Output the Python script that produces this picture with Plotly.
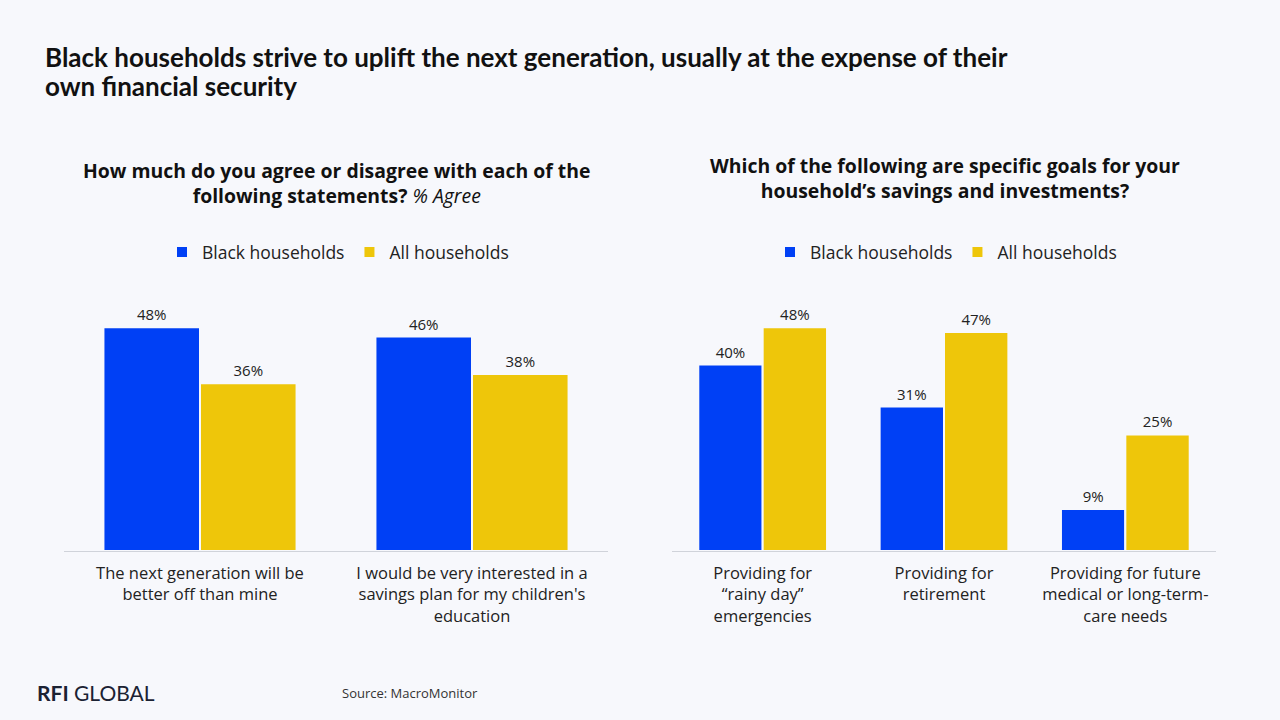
import plotly.graph_objects as go

# ---- data ----
left_categories = ["The next generation will be<br>better off than mine",
                   "I would be very interested in a<br>savings plan for my children's<br>education"]
left_black = [48, 46]
left_all = [36, 38]

right_categories = ["Providing for<br>“rainy day”<br>emergencies",
                    "Providing for<br>retirement",
                    "Providing for future<br>medical or long-term-<br>care needs"]
right_black = [40, 31, 9]
right_all = [48, 47, 25]

series_names = ["Black households", "All households"]

title_lines = ["Black households strive to uplift the next generation, usually at the expense of their",
               "own financial security"]

BG = "#F7F8FC"
BLUE = "#0040F5"
YELLOW = "#EEC60A"
TXT = "#1A1A1A"
FONT = "Open Sans"
TFONT = "Lato"

fig = go.Figure()

def pct(vals):
    return [f"{v}%" for v in vals]

fig.add_trace(go.Bar(x=left_categories, y=left_black, name=series_names[0],
                     marker=dict(color=BLUE, line=dict(color=BG, width=2)),
                     text=pct(left_black), textposition="outside", cliponaxis=False,
                     xaxis="x", yaxis="y", legend="legend"))
fig.add_trace(go.Bar(x=left_categories, y=left_all, name=series_names[1],
                     marker=dict(color=YELLOW, line=dict(color=BG, width=2)),
                     text=pct(left_all), textposition="outside", cliponaxis=False,
                     xaxis="x", yaxis="y", legend="legend"))
fig.add_trace(go.Bar(x=right_categories, y=right_black, name=series_names[0],
                     marker=dict(color=BLUE, line=dict(color=BG, width=2)),
                     text=pct(right_black), textposition="outside", cliponaxis=False,
                     xaxis="x2", yaxis="y2", legend="legend2"))
fig.add_trace(go.Bar(x=right_categories, y=right_all, name=series_names[1],
                     marker=dict(color=YELLOW, line=dict(color=BG, width=2)),
                     text=pct(right_all), textposition="outside", cliponaxis=False,
                     xaxis="x2", yaxis="y2", legend="legend2"))

fig.update_traces(textfont=dict(size=15, color="#222222", family=FONT))

axis_x = dict(showline=True, linecolor="#D0D3DA", linewidth=1, showgrid=False,
              ticks="", ticklabelstandoff=7,
              tickfont=dict(size=16.5, color="#222222", family=FONT),
              fixedrange=True)
axis_y = dict(visible=False, range=[0, 56], showgrid=False, zeroline=False)

legend_common = dict(orientation="h", xanchor="center", yanchor="middle",
                     font=dict(size=17.5, color="#222222", family=FONT),
                     bgcolor="rgba(0,0,0,0)", itemclick=False, itemdoubleclick=False)

fig.update_layout(
    width=1280, height=720,
    margin=dict(l=0, r=0, t=0, b=0),
    paper_bgcolor=BG, plot_bgcolor=BG,
    barmode="group", bargap=0.29, bargroupgap=0.0,
    font=dict(family=FONT, color=TXT),
    xaxis=dict(domain=[64/1280, 608/1280], anchor="y", **axis_x),
    yaxis=dict(domain=[1-551/720, 1-290/720], anchor="x", **axis_y),
    xaxis2=dict(domain=[672/1280, 1216/1280], anchor="y2", **axis_x),
    yaxis2=dict(domain=[1-551/720, 1-290/720], anchor="x2", **axis_y),
    legend=dict(x=338/1280, y=1-252/720, **legend_common),
    legend2=dict(x=946/1280, y=1-252/720, **legend_common),
    showlegend=True,
)

annotations = [
    dict(text=f"<b>{title_lines[0]}</b>",
         x=43/1280, y=1-57/720, xanchor="left", yanchor="middle", align="left",
         font=dict(size=26, color="#111111", family=TFONT)),
    dict(text=f"<b>{title_lines[1]}</b>",
         x=43/1280, y=1-86/720, xanchor="left", yanchor="middle", align="left",
         font=dict(size=26, color="#111111", family=TFONT)),
    dict(text="<b>How much do you agree or disagree with each of the<br>following statements?</b> <i>% Agree</i>",
         x=336/1280, y=1-183/720, xanchor="center", yanchor="middle", align="center",
         font=dict(size=19.4, color="#111111", family=FONT)),
    dict(text="<b>Which of the following are specific goals for your<br>household’s savings and investments?</b>",
         x=945/1280, y=1-178/720, xanchor="center", yanchor="middle", align="center",
         font=dict(size=19.4, color="#111111", family=FONT)),
    dict(text="<b>RFI</b> GLOBAL",
         x=35/1280, y=1-692/720, xanchor="left", yanchor="middle",
         font=dict(size=21, color="#1B2233", family=TFONT)),
    dict(text="Source: MacroMonitor",
         x=340/1280, y=1-693/720, xanchor="left", yanchor="middle",
         font=dict(size=13, color="#333333", family=FONT)),
]
for a in annotations:
    a.update(xref="paper", yref="paper", showarrow=False)
fig.update_layout(annotations=annotations)

fig.write_html("out.html")
